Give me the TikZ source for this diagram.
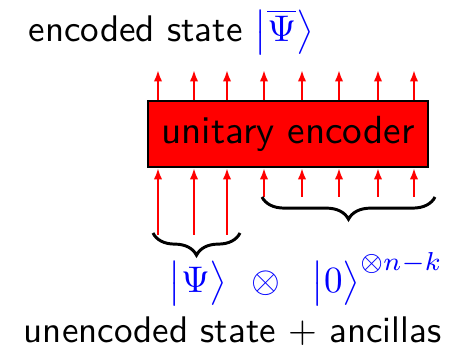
\documentclass[tikz,border=0pt]{standalone}
\usetikzlibrary{arrows.meta,decorations.pathreplacing}
\begin{document}
\begin{tikzpicture}[x=0.27pt,y=-0.27pt,
  wire/.style={red,line width=0.65pt,-{Latex[length=3.1pt,width=2.3pt]}},
  bracestyle/.style={decorate,decoration={brace,amplitude=6pt},line width=0.8pt},
  ket/.style={blue,inner sep=0pt,anchor=base},
  lbl/.style={font=\sffamily,inner sep=0pt,anchor=base west}]
\useasboundingbox (0,0) rectangle (459,347);
\node[draw=black,line width=0.55pt,fill=red,minimum width=75.6pt,minimum height=17.8pt,inner sep=0pt,font=\sffamily\fontsize{10.6}{12}\selectfont] (box) at (288,134) {unitary encoder};
% output wires
\foreach \x [count=\i] in {158,194,227,264,302,339,378,414}{
  \coordinate (out\i) at (\x,70);
  \draw[wire] (box.north -| out\i) -- (out\i);
}
% input wires
\foreach \x [count=\i] in {158,194,227}{
  \coordinate (in\i) at (\x,235);
  \draw[wire] (in\i) -- (in\i |- box.south);
}
\foreach \x [count=\i from 4] in {264,302,339,378,414}{
  \coordinate (in\i) at (\x,197);
  \draw[wire] (in\i) -- (in\i |- box.south);
}
% braces
\coordinate (lb1) at (153,233);
\coordinate (lb2) at (240,233);
\draw[bracestyle] (lb2) -- (lb1);
\coordinate (rb1) at (262,197);
\coordinate (rb2) at (435,197);
\draw[bracestyle] (rb2) -- (rb1);
% labels
\node[lbl] (top) at (28,42) {encoded state \textcolor{blue}{$\bigl|\overline{\Psi}\bigr\rangle$}};
\node[ket] (psi) at (198,293) {$\bigl|\Psi\bigr\rangle$};
\node[ket] (ot) at (265.5,293) {$\otimes$};
\node[ket,anchor=base west] (zero) at (311,293) {$\bigl|0\bigr\rangle^{\otimes n-k}$};
\node[lbl] (bot) at (23,343) {unencoded state $+$ ancillas};
\end{tikzpicture}
\end{document}
